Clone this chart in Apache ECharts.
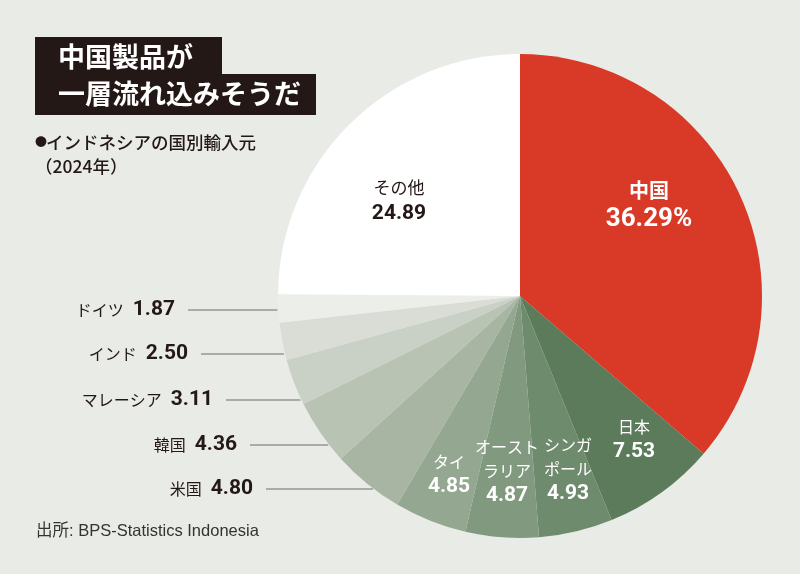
<!DOCTYPE html>
<html>
<head>
<meta charset="utf-8">
<script src="https://cdn.jsdelivr.net/npm/echarts@6/dist/echarts.min.js"></script>
<style>
html, body { margin: 0; padding: 0; background: #e9ebe6; }
#chart { width: 800px; height: 574px; }
</style>
</head>
<body>
<div id="chart"></div>
<script>
// インドネシアの国別輸入元（2024年, %）
const countries = ['中国', '日本', 'シンガポール', 'オーストラリア', 'タイ', '米国', '韓国', 'マレーシア', 'インド', 'ドイツ', 'その他'];
const shares = [36.29, 7.53, 4.93, 4.87, 4.85, 4.80, 4.36, 3.11, 2.50, 1.87, 24.89];
const labelNames = ['中国', '日本', 'シンガ\nポール', 'オースト\nラリア', 'タイ', '米国', '韓国', 'マレーシア', 'インド', 'ドイツ', 'その他'];

const sliceColors = ['#d83a27', '#5b7b5b', '#6f8b6d', '#81997e', '#94a790', '#a7b5a2', '#b8c3b3', '#c9d0c5', '#d9ddd6', '#eceee9', '#ffffff'];

// pie geometry
const cx = 520, cy = 296, r = 242;

// label placement (layout only)
const insidePos = {
  0: [649, 205], 1: [634, 440], 2: [568, 470], 3: [507, 472], 4: [449, 475], 10: [399, 201]
};
const outsideRight = { 9: 175, 8: 188, 7: 213, 6: 237, 5: 253 };
const outsideY = { 9: 310, 8: 354, 7: 400, 6: 445, 5: 489 };

const CJK = '"Noto Sans CJK JP", "Noto Sans", sans-serif';
const NUM = 'Roboto, "Noto Sans", sans-serif';
const ink = '#231815';

function labelText(i) {
  const v = i === 0 ? shares[i].toFixed(2) + '%' : shares[i].toFixed(2);
  if (i === 0) return '{rn|' + labelNames[i] + '}\n{rv|' + v + '}';
  if (i === 10) return '{dn|' + labelNames[i] + '}\n{dv|' + v + '}';
  if (outsideRight[i] != null) return '{on|' + labelNames[i] + '}{ov|' + v + '}';
  return labelNames[i].split('\n').map(s => '{wn|' + s + '}').join('\n') + '\n{wv|' + v + '}';
}

const chart = echarts.init(document.getElementById('chart'), null, { renderer: 'canvas' });

chart.setOption({
  backgroundColor: '#e9ebe6',
  animation: false,
  graphic: [
    { type: 'rect', shape: { x: 35, y: 37, width: 187, height: 40 }, style: { fill: ink } },
    { type: 'rect', shape: { x: 35, y: 74, width: 281, height: 41 }, style: { fill: ink } },
    { type: 'text', x: 58, y: 57, style: { text: '中国製品が', fill: '#fff', font: 'bold 27px ' + CJK, verticalAlign: 'middle' } },
    { type: 'text', x: 58, y: 94, style: { text: '一層流れ込みそうだ', fill: '#fff', font: 'bold 27px ' + CJK, verticalAlign: 'middle' } },
    { type: 'text', x: 35, y: 142, style: { text: '●', fill: ink, font: '12px ' + CJK, verticalAlign: 'middle' } },
    { type: 'text', x: 46, y: 142, style: { text: 'インドネシアの国別輸入元', fill: ink, font: '500 17.5px ' + CJK, verticalAlign: 'middle' } },
    { type: 'text', x: 35, y: 166, style: { text: '（2024年）', fill: ink, font: '500 17.5px ' + CJK, verticalAlign: 'middle' } },
    { type: 'text', x: 36, y: 531, style: { text: '出所: BPS-Statistics Indonesia', fill: '#333', font: '16.5px "Liberation Sans", ' + CJK, verticalAlign: 'middle' } }
  ],
  series: [{
    type: 'pie',
    center: [cx, cy],
    radius: r,
    startAngle: 90,
    clockwise: true,
    avoidLabelOverlap: false,
    itemStyle: { borderWidth: 0 },
    emphasis: { disabled: true },
    label: {
      show: true,
      formatter: p => labelText(p.dataIndex),
      rich: {
        rn: { fontFamily: CJK, fontWeight: 'bold', fontSize: 20, color: '#fff', lineHeight: 28 },
        rv: { fontFamily: NUM, fontWeight: 'bold', fontSize: 26, color: '#fff', lineHeight: 30 },
        dn: { fontFamily: CJK, fontSize: 17, color: ink, lineHeight: 25 },
        dv: { fontFamily: NUM, fontWeight: 'bold', fontSize: 21, color: ink, lineHeight: 26 },
        wn: { fontFamily: CJK, fontSize: 16, color: '#fff', lineHeight: 24 },
        wv: { fontFamily: NUM, fontWeight: 'bold', fontSize: 21, color: '#fff', lineHeight: 26 },
        on: { fontFamily: CJK, fontSize: 16, color: ink, padding: [0, 9, 0, 0] },
        ov: { fontFamily: NUM, fontWeight: 'bold', fontSize: 21, color: ink }
      }
    },
    labelLine: { show: false },
    labelLayout: function (params) {
      const i = params.dataIndex;
      if (insidePos[i]) {
        return { x: insidePos[i][0], y: insidePos[i][1], align: 'center', verticalAlign: 'middle' };
      }
      const y = outsideY[i];
      const right = outsideRight[i];
      const x0 = right + 13;
      const x1 = cx - Math.sqrt(r * r - (y - cy) * (y - cy)) - 1;
      return {
        x: right, y: y, align: 'right', verticalAlign: 'middle',
        labelLinePoints: [[x0, y], [x1, y], [x1, y]]
      };
    },
    data: countries.map((name, i) => ({
      name: name,
      value: shares[i],
      itemStyle: { color: sliceColors[i] },
      label: { position: outsideRight[i] != null ? 'outside' : 'inside' },
      labelLine: {
        show: outsideRight[i] != null,
        lineStyle: { color: '#6e6e6e', width: 1.2 }
      }
    }))
  }]
});
</script>
</body>
</html>
